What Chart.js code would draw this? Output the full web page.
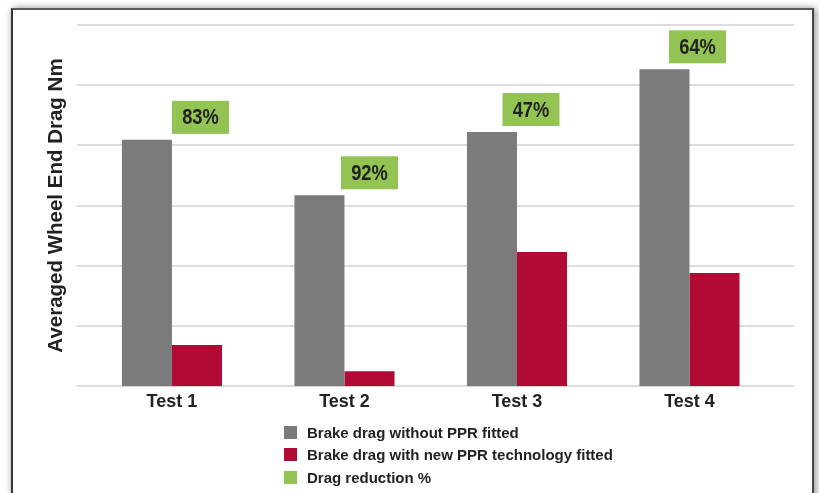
<!DOCTYPE html>
<html><head><meta charset="utf-8">
<script src="https://cdn.jsdelivr.net/npm/chart.js@4/dist/chart.umd.min.js"></script>
<style>
html,body{margin:0;padding:0;background:#fff;}
#wrap{position:relative;width:819px;height:493px;overflow:hidden;background:#fff;}
#frame{position:absolute;left:11px;top:8px;width:799px;height:520px;border:2px solid #333;border-top-color:#5a5a5a;border-right-color:#444;box-shadow:3px 0 7px rgba(0,0,0,0.35),-2px 0 6px rgba(0,0,0,0.12);background:#fff;}
canvas{position:absolute;left:0;top:0;}
#legend{position:absolute;left:284px;top:421px;font:bold 15px "Liberation Sans",Arial,sans-serif;color:#222;}
.item{display:flex;align-items:center;height:22.5px;white-space:nowrap;}
.sw{width:13px;height:13px;margin-right:10px;flex:none;}
</style>
</head><body>
<div id="wrap">
  <div id="frame"></div>
  <canvas id="c" width="819" height="493"></canvas>
  <div id="legend"></div>
</div>
<script>
// ---- data ----
const categories = ["Test 1", "Test 2", "Test 3", "Test 4"];
const withoutPPR = [4.09, 3.17, 4.22, 5.26];
const withPPR = [0.685, 0.25, 2.23, 1.88];
const reductionPct = [83, 92, 47, 64];
const seriesNames = ["Brake drag without PPR fitted", "Brake drag with new PPR technology fitted", "Drag reduction %"];
const yTicks = [0, 1, 2, 3, 4, 5, 6];

// ---- styles ----
const GRAY = "#7b7b7b", RED = "#b00a35", GREEN = "#92c353";

const extGrid = {
  id: "extGrid",
  beforeDatasetsDraw(chart, args, opts) {
    const y = chart.scales.y, a = chart.chartArea, ctx = chart.ctx;
    ctx.save();
    ctx.strokeStyle = opts.color;
    ctx.lineWidth = opts.width;
    y.ticks.forEach(t => {
      const py = Math.round(y.getPixelForValue(t.value));
      ctx.beginPath();
      ctx.moveTo(a.left - opts.extLeft, py);
      ctx.lineTo(a.right + opts.extRight, py);
      ctx.stroke();
    });
    ctx.restore();
  }
};

const pctBoxes = {
  id: "pctBoxes",
  afterDatasetsDraw(chart, args, opts) {
    const meta = chart.getDatasetMeta(0), ctx = chart.ctx;
    ctx.save();
    meta.data.forEach((bar, i) => {
      const center = bar.x + bar.width / 2;
      const cx = center + opts.shift[i];
      const bottom = bar.y - opts.gap;
      const top = bottom - opts.h;
      ctx.fillStyle = GREEN;
      ctx.fillRect(cx - opts.w / 2, top, opts.w, opts.h);
      ctx.save();
      ctx.translate(cx, top + opts.h / 2 + 1);
      ctx.scale(0.83, 1);
      ctx.fillStyle = "#222";
      ctx.font = 'bold 22px "Liberation Sans", Arial, sans-serif';
      ctx.textAlign = "center";
      ctx.textBaseline = "middle";
      ctx.fillText(reductionPct[i] + "%", 0, 0);
      ctx.restore();
    });
    ctx.restore();
  }
};

const chart = new Chart(document.getElementById("c"), {
  type: "bar",
  data: {
    labels: categories,
    datasets: [
      { label: seriesNames[0], data: withoutPPR, backgroundColor: GRAY },
      { label: seriesNames[1], data: withPPR, backgroundColor: RED }
    ]
  },
  options: {
    responsive: false,
    animation: false,
    devicePixelRatio: 1,
    layout: { padding: { left: 40.6, right: 43.25, top: 24.7, bottom: 74.3 } },
    datasets: { bar: { barPercentage: 1.0, categoryPercentage: 0.58 } },
    scales: {
      x: {
        grid: { display: false, drawTicks: false },
        border: { display: false },
        ticks: { color: "#222", padding: 6, font: { family: '"Liberation Sans", Arial, sans-serif', size: 18, weight: "bold", lineHeight: 1.13 } }
      },
      y: {
        min: 0, max: 6,
        afterBuildTicks: s => { s.ticks = yTicks.map(v => ({ value: v })); },
        grid: { display: false, drawTicks: false },
        border: { display: false },
        ticks: { display: false },
        title: {
          display: true,
          text: "Averaged Wheel End Drag Nm",
          color: "#222",
          padding: { top: 4, bottom: 18.35 },
          font: { family: '"Liberation Sans", Arial, sans-serif', size: 20.5, weight: "bold", lineHeight: 1.11 }
        }
      }
    },
    plugins: {
      legend: { display: false },
      tooltip: { enabled: false },
      extGrid: { color: "#dcdcdc", width: 2, extLeft: 9, extRight: 18 },
      pctBoxes: { w: 57, h: 33, gap: 6, shift: [28.5, 25, 14, 8] }
    }
  },
  plugins: [extGrid, pctBoxes]
});

// legend built from the series
const legendColors = [GRAY, RED, GREEN];
const lg = document.getElementById("legend");
seriesNames.forEach((n, i) => {
  const row = document.createElement("div");
  row.className = "item";
  const sw = document.createElement("span");
  sw.className = "sw";
  sw.style.background = legendColors[i];
  const tx = document.createElement("span");
  tx.textContent = n;
  row.appendChild(sw); row.appendChild(tx);
  lg.appendChild(row);
});
</script>
</body></html>
